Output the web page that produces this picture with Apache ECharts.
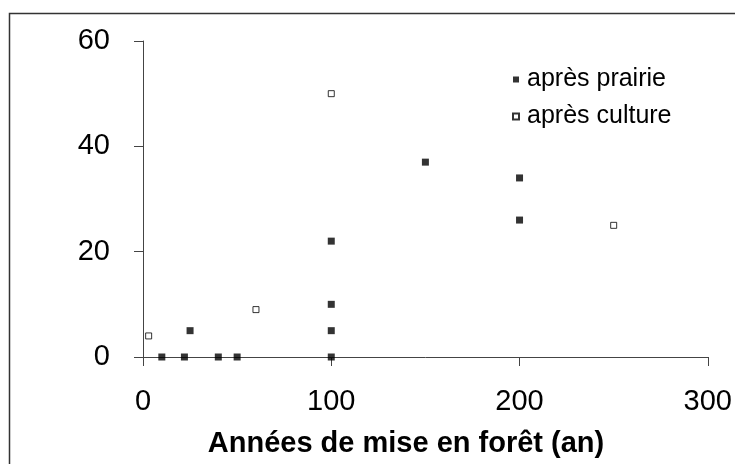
<!DOCTYPE html>
<html>
<head>
<meta charset="utf-8">
<script src="https://cdn.jsdelivr.net/npm/echarts@6/dist/echarts.min.js"></script>
<style>
  html, body { margin: 0; padding: 0; background: #fff; }
  #chart { width: 735px; height: 464px; }
</style>
</head>
<body>
<div id="chart"></div>
<script>
// données
var prairieX = [10, 22, 25, 40, 50, 100, 100, 100, 100, 150, 200, 200];
var prairieY = [0, 0, 5, 0, 0, 0, 5, 10, 22, 37, 34, 26];
var cultureX = [3, 60, 100, 250];
var cultureY = [4, 9, 50, 25];
var xTicks = [0, 100, 200, 300];
var yTicks = [0, 20, 40, 60];

function pairs(xs, ys) {
  return xs.map(function (x, i) { return [x, ys[i]]; });
}

var chart = echarts.init(document.getElementById('chart'), null, { renderer: 'canvas' });

var axisFont = { fontFamily: 'Liberation Sans, Arial, sans-serif', fontSize: 29, color: '#000' };

var option = {
  animation: false,
  backgroundColor: '#fff',
  grid: { left: 143, right: 25, top: 41, bottom: 107, containLabel: false },
  title: {
    text: 'Années de mise en forêt (an)',
    left: 401,
    top: 424,
    textAlign: 'center',
    textStyle: { fontFamily: 'Liberation Sans, Arial, sans-serif', fontSize: 29, fontWeight: 'bold', color: '#000' }
  },
  legend: {
    orient: 'vertical',
    left: 507,
    top: 62,
    itemWidth: 6,
    itemHeight: 6,
    itemGap: 12,
    data: ['après prairie', 'après culture'],
    textStyle: { fontFamily: 'Liberation Sans, Arial, sans-serif', fontSize: 25, color: '#000', lineHeight: 25, padding: [0, 0, 0, 3] }
  },
  xAxis: {
    type: 'value',
    min: xTicks[0],
    max: xTicks[xTicks.length - 1],
    interval: 100,
    splitLine: { show: false },
    axisLine: { lineStyle: { color: '#444', width: 1 } },
    axisTick: { length: 9, lineStyle: { color: '#444' } },
    axisLabel: Object.assign({ margin: 30 }, axisFont)
  },
  yAxis: {
    type: 'value',
    min: yTicks[0],
    max: yTicks[yTicks.length - 1],
    interval: 20,
    splitLine: { show: false },
    axisLine: { show: true, lineStyle: { color: '#444', width: 1 } },
    axisTick: { show: true, length: 9, lineStyle: { color: '#444' } },
    axisLabel: Object.assign({ margin: 33 }, axisFont)
  },
  series: [
    {
      name: 'après prairie',
      type: 'scatter',
      symbol: 'rect',
      symbolSize: 7,
      itemStyle: { color: '#000' },
      data: pairs(prairieX, prairieY)
    },
    {
      name: 'après culture',
      type: 'scatter',
      symbol: 'rect',
      symbolSize: 6,
      itemStyle: { color: '#fff', borderColor: '#000', borderWidth: 1 },
      data: pairs(cultureX, cultureY)
    }
  ],
  graphic: [
    {
      type: 'rect',
      shape: { x: 9.5, y: 13.5, width: 800, height: 500 },
      style: { fill: null, stroke: '#333', lineWidth: 1.5 },
      silent: true
    }
  ]
};

chart.setOption(option);
</script>
</body>
</html>
